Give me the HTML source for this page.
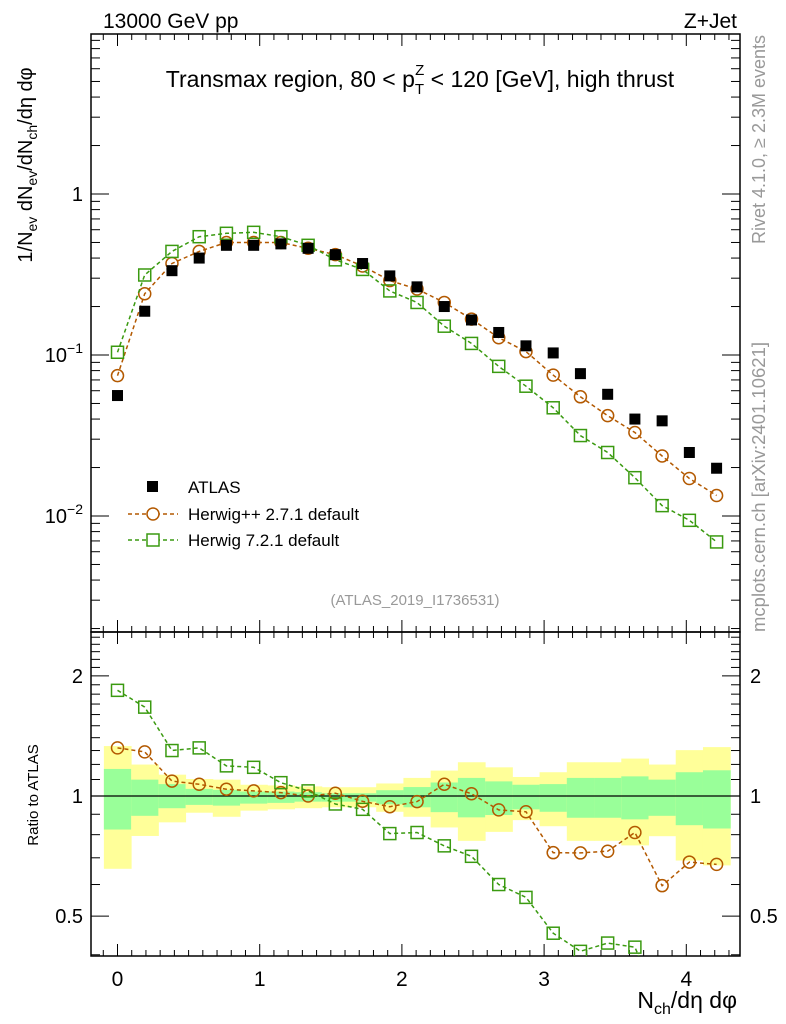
<!DOCTYPE html>
<html><head><meta charset="utf-8"><style>
html,body{margin:0;padding:0;background:#fff;}
svg{display:block;font-family:"Liberation Sans",sans-serif;}
</style></head><body>
<svg id="chart" width="786" height="1024" viewBox="0 0 786 1024" xmlns="http://www.w3.org/2000/svg">
<text x="103" y="28" font-size="21">13000 GeV pp</text>
<text x="737" y="28" font-size="21" text-anchor="end">Z+Jet</text>
<text x="420" y="87" font-size="23" text-anchor="middle">Transmax region, 80 &lt; p<tspan font-size="15" dy="7">T</tspan><tspan font-size="15" dx="-9" dy="-19">Z</tspan><tspan dy="12"> &lt; 120 [GeV], high thrust</tspan></text>
<text transform="translate(32,165) rotate(-90)" font-size="20" text-anchor="middle">1/N<tspan font-size="14" dy="5">ev</tspan><tspan dy="-5"> dN</tspan><tspan font-size="14" dy="5">ev</tspan><tspan dy="-5">/dN</tspan><tspan font-size="14" dy="5">ch</tspan><tspan dy="-5">/dη dφ</tspan></text>
<text transform="translate(765,35) rotate(-90)" font-size="18" fill="#999" text-anchor="end">Rivet 4.1.0, ≥ 2.3M events</text>
<text transform="translate(765,632) rotate(-90)" font-size="18.5" fill="#999" text-anchor="start">mcplots.cern.ch [arXiv:2401.10621]</text>
<text x="415" y="605" font-size="15" fill="#999" text-anchor="middle">(ATLAS_2019_I1736531)</text>
<text transform="translate(38,795) rotate(-90)" font-size="15" text-anchor="middle">Ratio to ATLAS</text>
<text x="737" y="1008" font-size="23" text-anchor="end">N<tspan font-size="16" dy="6">ch</tspan><tspan dy="-6">/dη dφ</tspan></text>
<g id="bands"></g><g id="axes"></g><g id="series"></g><g id="legend"></g>
</svg>
<script>
const xCenters = Array.from({length:23},(_,i)=>i*0.1915);
const atlas = [0.056,0.187,0.334,0.40,0.48,0.48,0.49,0.46,0.42,0.37,0.31,0.265,0.20,0.165,0.138,0.114,0.103,0.0766,0.057,0.040,0.039,0.0248,0.0198];
const herwigpp = [0.0744,0.24,0.37,0.44,0.50,0.50,0.50,0.46,0.42,0.357,0.29,0.257,0.212,0.167,0.128,0.105,0.075,0.055,0.042,0.033,0.0236,0.0171,0.0134];
const herwig7 = [0.104,0.314,0.44,0.543,0.57,0.578,0.543,0.48,0.39,0.34,0.25,0.212,0.151,0.118,0.085,0.064,0.047,0.0316,0.0248,0.0173,0.0116,0.0094,0.0069];
const ratioPP = [1.32,1.29,1.09,1.07,1.04,1.03,1.02,1.0,1.016,0.97,0.94,0.968,1.07,1.013,0.923,0.913,0.721,0.72,0.727,0.81,0.596,0.683,0.674];
const ratio7 = [1.84,1.67,1.30,1.32,1.19,1.18,1.08,1.03,0.955,0.926,0.805,0.81,0.75,0.706,0.60,0.557,0.453,0.408,0.428,0.418,0.29,0.375,0.35];
const yelTop = [1.334,1.199,1.131,1.103,1.099,1.067,1.063,1.057,1.052,1.052,1.075,1.11,1.158,1.215,1.18,1.116,1.147,1.215,1.215,1.241,1.199,1.303,1.326];
const grnTop = [1.169,1.099,1.071,1.042,1.036,1.026,1.026,1.022,1.016,1.016,1.034,1.053,1.081,1.11,1.088,1.067,1.071,1.11,1.11,1.12,1.099,1.147,1.16];
const grnBot = [0.824,0.892,0.932,0.95,0.946,0.957,0.961,0.968,0.968,0.968,0.953,0.937,0.911,0.884,0.896,0.926,0.913,0.882,0.882,0.874,0.892,0.845,0.829];
const yelBot = [0.657,0.794,0.859,0.908,0.887,0.919,0.926,0.932,0.937,0.937,0.913,0.887,0.834,0.772,0.813,0.87,0.84,0.772,0.772,0.752,0.793,0.689,0.67];
const xTicks = [0,1,2,3,4];
const mainYLabels = [[1,"1"],[0.1,"10","−1"],[0.01,"10","−2"]];
const ratioYLabels = [[2,"2"],[1,"1"],[0.5,"0.5"]];

const NS="http://www.w3.org/2000/svg";
const L=91,R=740,T=34,M=632,B=956;
const X=v=>117.5+142.2*v;
const Y=v=>194-161*Math.log10(v);
const YR=v=>796-399*Math.log10(v);
const binW=0.1915;
function mk(tag,parent,attrs){const e=document.createElementNS(NS,tag);for(const k in attrs)e.setAttribute(k,attrs[k]);document.getElementById(parent).appendChild(e);return e;}

for(let i=0;i<xCenters.length;i++){
  const x0=X(xCenters[i]-binW/2), x1=X(xCenters[i]+binW/2);
  let e=mk('rect','bands',{x:x0,y:YR(yelTop[i]),width:x1-x0+0.5,height:YR(yelBot[i])-YR(yelTop[i]),fill:'#ffff99'});
  
  
  e=mk('rect','bands',{x:x0,y:YR(grnTop[i]),width:x1-x0+0.5,height:YR(grnBot[i])-YR(grnTop[i]),fill:'#99ff99'});
  
  
}
let f=mk('rect','axes',{x:L,y:T,width:R-L,height:M-T,fill:'none',stroke:'#000','stroke-width':1.5});


f=mk('rect','axes',{x:L,y:M,width:R-L,height:B-M,fill:'none',stroke:'#000','stroke-width':1.5});


let ul=mk('line','axes',{x1:L,x2:R,y1:YR(1),y2:YR(1),stroke:'#000','stroke-width':1.2});


function tl(x1,y1,x2,y2,name){const e=mk('line','axes',{x1,y1,x2,y2,stroke:'#000','stroke-width':1});}
for(let k=-1;k<=43;k++){const v=k/10;const x=X(v);if(x<L||x>R)continue;const maj=(k%10===0);const len=maj?12:6;
  [T,M].forEach(yy=>tl(x,yy,x,yy+len,'x-tick'));[M,B].forEach(yy=>tl(x,yy,x,yy-len,'x-tick'));}
xTicks.forEach(v=>{const t=mk('text','axes',{x:X(v),y:986,'font-size':21,'text-anchor':'middle'});t.textContent=v;
  
  });
for(let d=-3;d<=0;d++){for(let m=1;m<=9;m++){const v=m*Math.pow(10,d);const y=Y(v);if(y<T||y>M)continue;const len=m===1?18:9;
  tl(L,y,L+len,y,'y-tick');tl(R,y,R-len,y,'y-tick');}}
mainYLabels.forEach(l=>{const t=mk('text','axes',{x:83,y:Y(l[0])+7,'font-size':20,'text-anchor':'end'});
  if(l[2]){t.innerHTML=l[1]+'<tspan font-size="14" dy="-9">'+l[2]+'</tspan>';}else t.textContent=l[1];
  
  });
for(let k=4;k<=25;k++){const v=k/10;const y=YR(v);if(y<M||y>B)continue;const maj=(k===5||k===10||k===20);const len=maj?18:9;
  tl(L,y,L+len,y,'ratio-y-tick');tl(R,y,R-len,y,'ratio-y-tick');}
ratioYLabels.forEach(l=>{[[83,'end'],[750,'start']].forEach(p=>{const t=mk('text','axes',{x:p[0],y:YR(l[0])+7,'font-size':20,'text-anchor':p[1]});t.textContent=l[1];
  
  });});

const C_PP='#b35900', C_7='#3a9a10';
function pathFrom(vals,yf){let d='';vals.forEach((v,i)=>{const y=yf(v);d+=(i?'L':'M')+X(xCenters[i]).toFixed(1)+' '+y.toFixed(1);});return d;}
const cp=mk('clipPath','series',{id:'rclip'});const cr=document.createElementNS(NS,'rect');cp.appendChild(cr);
cr.setAttribute('x',L);cr.setAttribute('y',M);cr.setAttribute('width',R-L);cr.setAttribute('height',B-M);
function drawSeries(vals,yf,color,shape,name,clip){
  const g=mk('g','series',clip?{'clip-path':'url(#rclip)'}:{});
  
  
  if(shape!=='fill'){const p=document.createElementNS(NS,'path');p.setAttribute('d',pathFrom(vals,yf));p.setAttribute('fill','none');p.setAttribute('stroke',color);p.setAttribute('stroke-width','1.5');p.setAttribute('stroke-dasharray','4,3');
    
    
    g.appendChild(p);}
  vals.forEach((v,i)=>{const x=X(xCenters[i]),y=yf(v);let e;
    if(shape==='fill'){e=document.createElementNS(NS,'rect');e.setAttribute('x',x-5.5);e.setAttribute('y',y-5.5);e.setAttribute('width',11);e.setAttribute('height',11);e.setAttribute('fill','#000');}
    else if(shape==='circle'){e=document.createElementNS(NS,'circle');e.setAttribute('cx',x);e.setAttribute('cy',y);e.setAttribute('r',6);e.setAttribute('fill','none');e.setAttribute('stroke',color);e.setAttribute('stroke-width','1.5');}
    else {e=document.createElementNS(NS,'rect');e.setAttribute('x',x-6);e.setAttribute('y',y-6);e.setAttribute('width',12);e.setAttribute('height',12);e.setAttribute('fill','none');e.setAttribute('stroke',color);e.setAttribute('stroke-width','1.5');}
    
    
    g.appendChild(e);});
}
drawSeries(herwigpp,Y,C_PP,'circle','herwigpp-series',false);
drawSeries(herwig7,Y,C_7,'square','herwig7-series',false);
drawSeries(atlas,Y,'#000','fill','atlas-series',false);
drawSeries(ratioPP,YR,C_PP,'circle','herwigpp-ratio',true);
drawSeries(ratio7,YR,C_7,'square','herwig7-ratio',true);

function lg(y,label,shape,color,name){
  const g=mk('g','legend',{});
  
  
  if(shape==='fill'){const r=document.createElementNS(NS,'rect');r.setAttribute('x',147);r.setAttribute('y',y-6);r.setAttribute('width',11);r.setAttribute('height',11);g.appendChild(r);}
  else{const l=document.createElementNS(NS,'line');l.setAttribute('x1',128);l.setAttribute('x2',178);l.setAttribute('y1',y);l.setAttribute('y2',y);l.setAttribute('stroke',color);l.setAttribute('stroke-width','1.5');l.setAttribute('stroke-dasharray','4,3');g.appendChild(l);
    let m;if(shape==='circle'){m=document.createElementNS(NS,'circle');m.setAttribute('cx',153);m.setAttribute('cy',y);m.setAttribute('r',6);}else{m=document.createElementNS(NS,'rect');m.setAttribute('x',147);m.setAttribute('y',y-6);m.setAttribute('width',12);m.setAttribute('height',12);}
    m.setAttribute('fill','#fff');m.setAttribute('stroke',color);m.setAttribute('stroke-width','1.5');g.appendChild(m);}
  const t=document.createElementNS(NS,'text');t.setAttribute('x',188);t.setAttribute('y',y+6);t.setAttribute('font-size','17');t.textContent=label;g.appendChild(t);
}
lg(487,'ATLAS','fill','#000','legend-atlas');
lg(514,'Herwig++ 2.7.1 default','circle',C_PP,'legend-herwigpp');
lg(540,'Herwig 7.2.1 default','square',C_7,'legend-herwig7');
</script>
</body></html>
